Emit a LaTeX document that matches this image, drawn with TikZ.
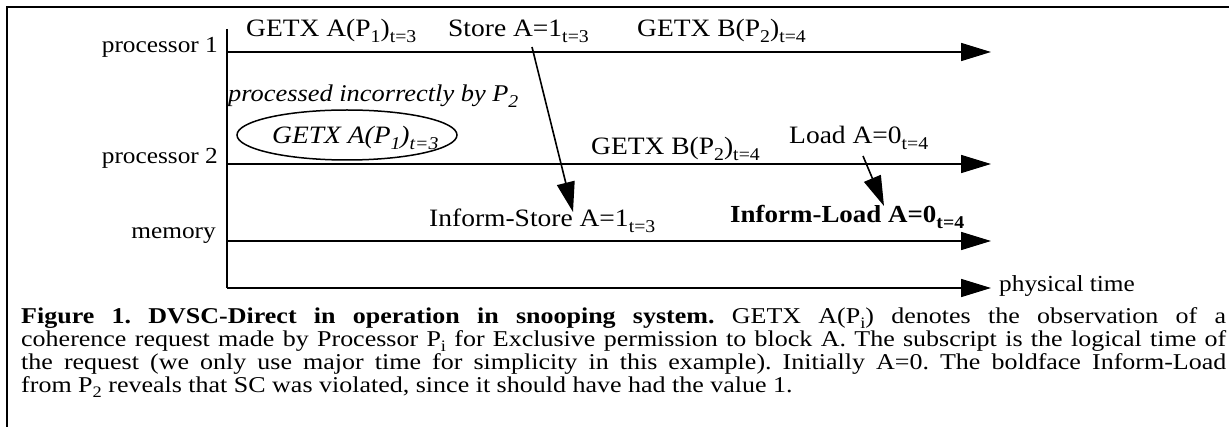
\documentclass[tikz,border=0pt]{standalone}
\usepackage{fontspec}
\setmainfont{Liberation Serif}
\newfontfamily\dfont[FakeStretch=1.1]{Liberation Serif}
\newfontfamily\cfont[FakeStretch=1.15]{Liberation Serif}
\usetikzlibrary{arrows.meta}
\newcommand\esub[1]{\raisebox{-6pt}{\fontsize{18}{18}\selectfont #1}}
\newcommand\csub[1]{\raisebox{-4.5pt}{\fontsize{16}{16}\selectfont #1}}
\begin{document}
\begin{tikzpicture}[x=1pt,y=-1pt,
  axl/.style={inner sep=0pt, font=\dfont\fontsize{23}{26}\selectfont},
  ev/.style={inner sep=0pt, anchor=base west, font=\dfont\fontsize{25}{28}\selectfont},
  capline/.style={inner sep=0pt, anchor=base west, font=\cfont\fontsize{22.6}{23}\selectfont\frenchspacing},
  tl/.style={line width=1.6pt, -{Triangle[length=30pt,width=18pt]}},
  framel/.style={line width=1.8pt}]
\useasboundingbox (0,0) rectangle (1229,427);
% frame
\draw[framel] (7,427) -- (7,7) -- (1229,7);
% axes
\coordinate (top) at (227,29);
\coordinate (p1s) at (227,52);  \coordinate (p1e) at (991,52);
\coordinate (p2s) at (227,164); \coordinate (p2e) at (991,164);
\coordinate (ms)  at (227,241); \coordinate (me)  at (991,241);
\coordinate (ts)  at (227,288); \coordinate (te)  at (991,288);
\draw[line width=1.6pt] (top) -- (ts);
\draw[tl] (p1s) -- (p1e);
\draw[tl] (p2s) -- (p2e);
\draw[tl] (ms) -- (me);
\draw[tl] (ts) -- (te);
% left labels
\node[axl, anchor=base east] (lp1) at (218,53) {processor 1};
\node[axl, anchor=base east] (lp2) at (218,164) {processor 2};
\node[axl, anchor=base east] (lm)  at (216,239) {memory};
\node[axl, anchor=base west] (lt)  at (999,292) {physical time};
% processor 1 events
\node[ev] (g1) at (246,37) {GETX A(P\esub{1})\esub{t=3}};
\node[ev] (st) at (448,37) {Store A=1\esub{t=3}};
\node[ev] (g2) at (637,37) {GETX B(P\esub{2})\esub{t=4}};
% processor 2 events
\node[ev, font=\dfont\fontsize{24}{28}\selectfont\itshape] (pi) at (228,102) {processed incorrectly by P\esub{2}};
\draw[line width=1.5pt] (347,135) ellipse [x radius=110, y radius=25];
\node[ev, font=\dfont\fontsize{25}{28}\selectfont\itshape] (g3) at (272,144) {GETX A(P\esub{1})\esub{t=3}};
\node[ev] (g4) at (591,155) {GETX B(P\esub{2})\esub{t=4}};
\node[ev] (ld) at (789,144) {Load A=0\esub{t=4}};
% memory events
\node[ev] (is) at (429,227) {Inform-Store A=1\esub{t=3}};
\node[ev, font=\dfont\fontsize{24.5}{28}\selectfont\bfseries] (il) at (730,223) {Inform-Load A=0\esub{t=4}};
% message arrows
\coordinate (s1) at (532,47);  \coordinate (s2) at (573,212);
\coordinate (l1) at (863,156); \coordinate (l2) at (884,206);
\draw[tl] (s1) -- (s2);
\draw[tl] (l1) -- (l2);
% caption
\node[capline] (c1) at (21,324) {\makebox[1205pt][s]{\textbf{Figure 1. DVSC-Direct in operation in snooping system.} GETX A(P\csub{i}) denotes the observation of a}};
\node[capline] (c2) at (21,347) {\makebox[1205pt][s]{coherence request made by Processor P\csub{i} for Exclusive permission to block A. The subscript is the logical time of}};
\node[capline] (c3) at (21,370) {\makebox[1205pt][s]{the request (we only use major time for simplicity in this example). Initially A=0. The boldface Inform-Load}};
\node[capline] (c4) at (21,393) {from P\csub{2} reveals that SC was violated, since it should have had the value 1.};
\end{tikzpicture}
\end{document}
